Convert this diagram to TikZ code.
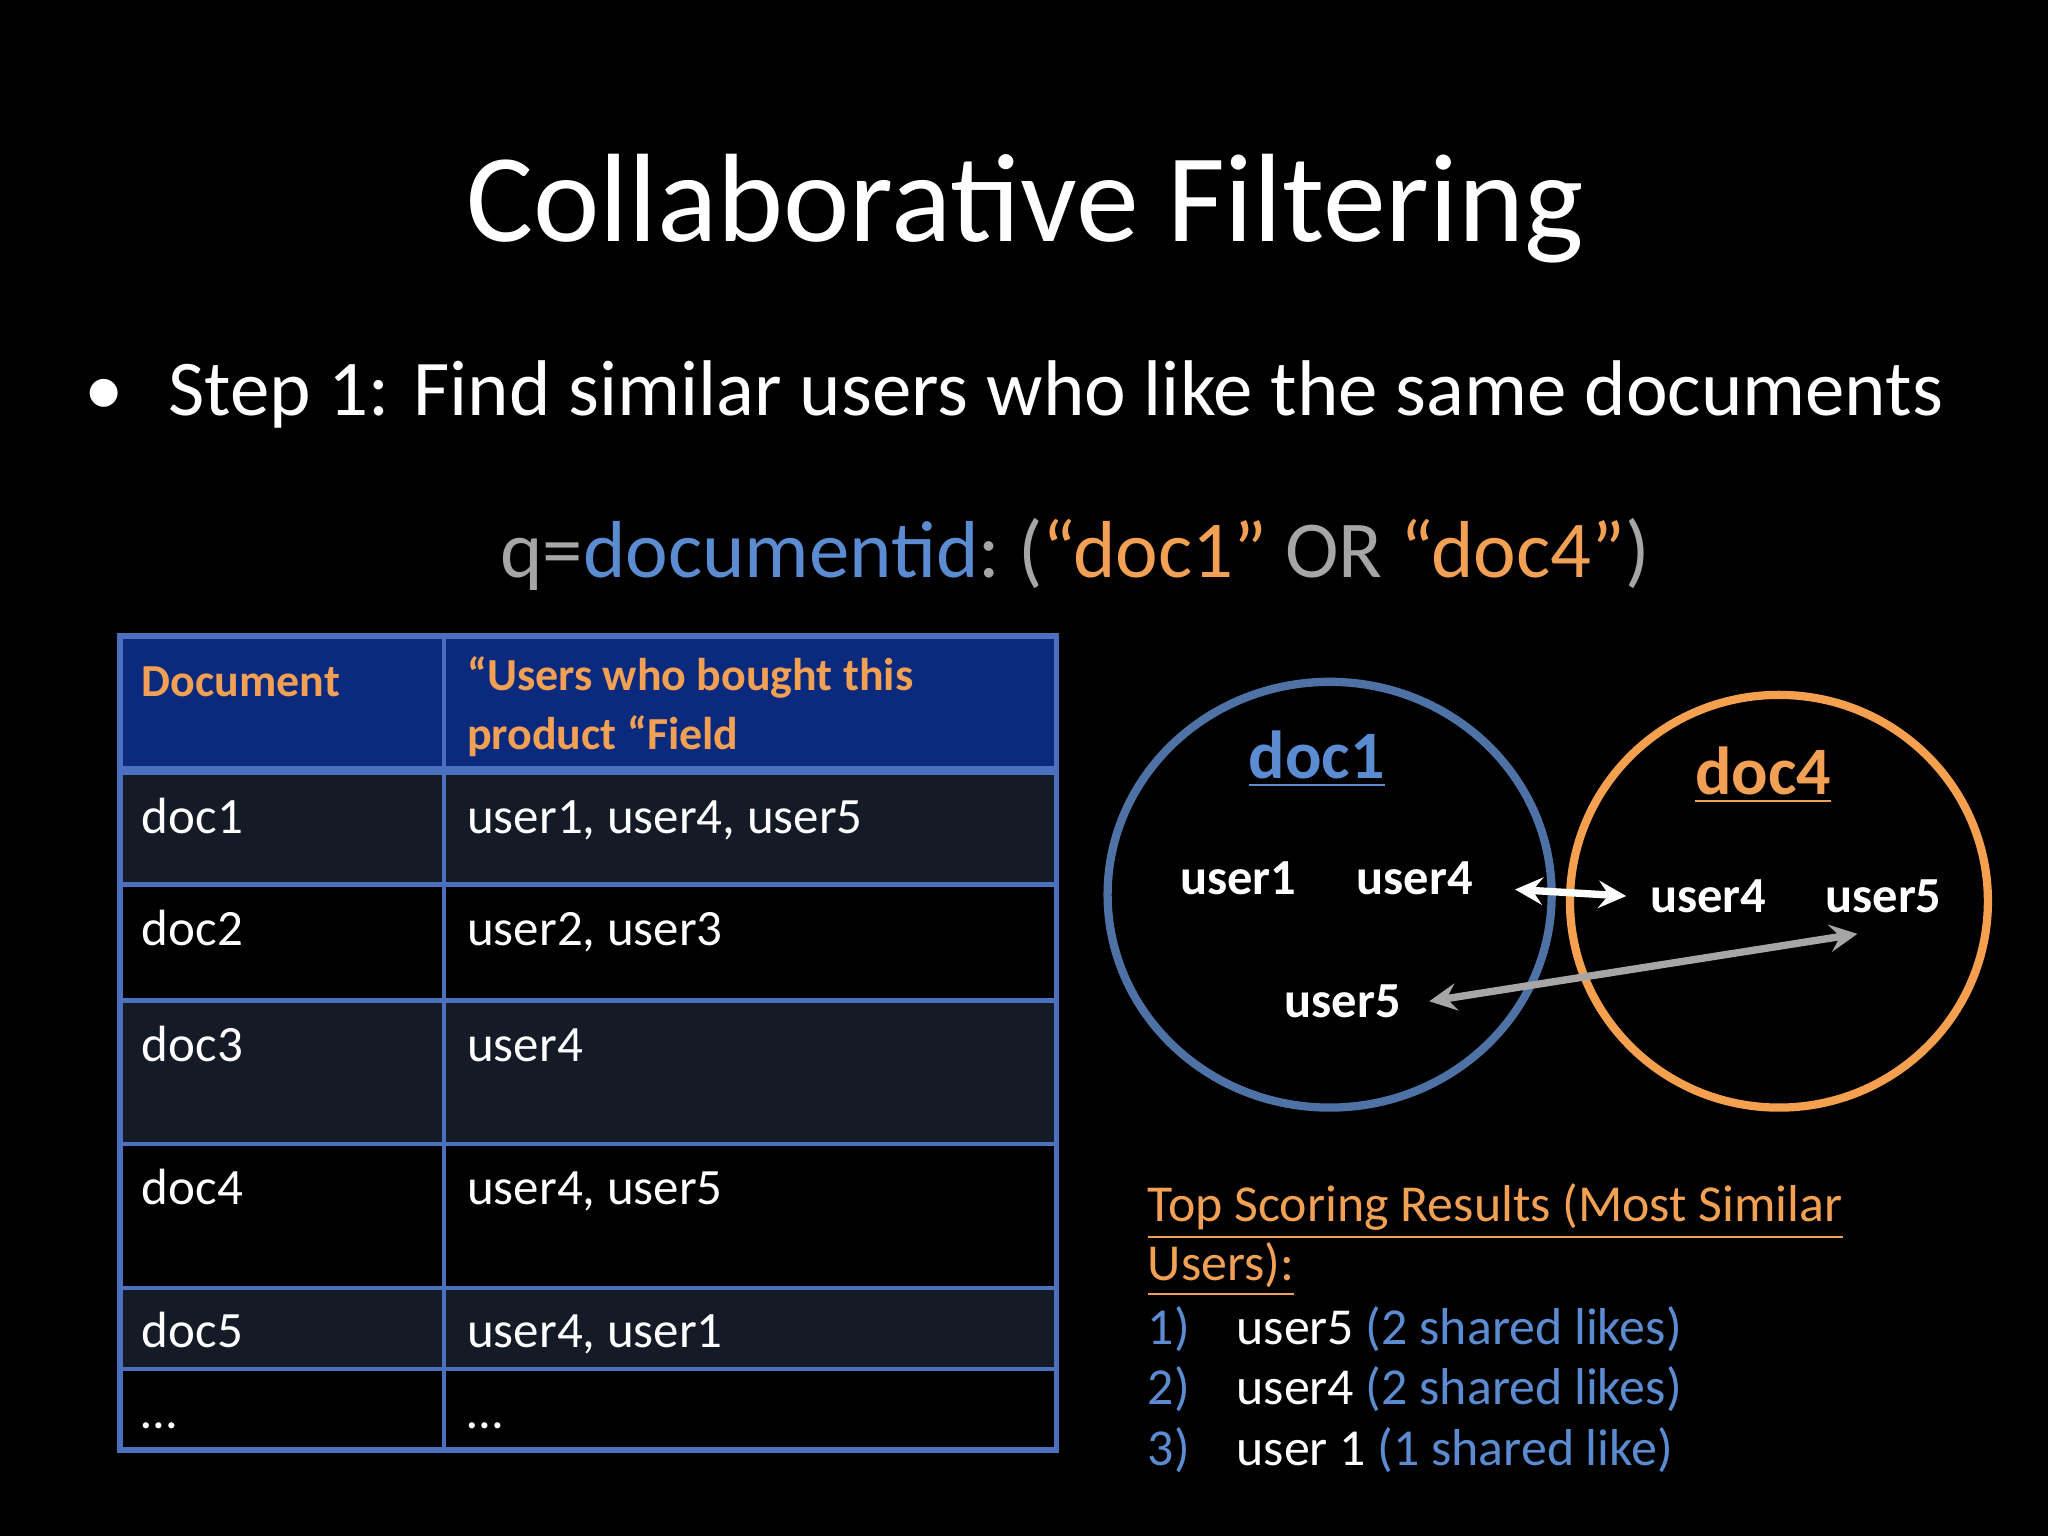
\documentclass[tikz,border=0pt]{standalone}
\usepackage{fontspec}
\setmainfont{Carlito}
\definecolor{tblue}{HTML}{4A70BE}
\definecolor{hblue}{HTML}{0B2A7E}
\definecolor{rowg}{HTML}{141B27}
\definecolor{qgray}{HTML}{A6A6A6}
\definecolor{qblue}{HTML}{5B8BD0}
\definecolor{qorange}{HTML}{F2A054}
\definecolor{cblue}{HTML}{4F72A6}
\definecolor{corange}{HTML}{F5A04E}
\tikzset{
  cell/.style={anchor=base west,text=white,inner sep=0pt,font=\fontsize{11.1}{13}\selectfont},
  hcell/.style={anchor=base west,text=qorange,inner sep=0pt,font=\fontsize{10}{12}\selectfont\bfseries},
  usr/.style={anchor=base,text=white,inner sep=0pt,font=\fontsize{11}{13}\selectfont\bfseries},
  res/.style={anchor=base west,inner sep=0pt,font=\fontsize{11.3}{14}\selectfont},
}
\begin{document}
\begin{tikzpicture}[x=0.1mm,y=-0.1mm]
\fill[black] (0,0) rectangle (1568,1176);
\useasboundingbox (0,0) rectangle (1568,1176);
\node[anchor=base,text=white,inner sep=0pt,font=\fontsize{27.4}{32}\selectfont] (title) at (785,185) {Collaborative Filtering};
\node[anchor=base,text=white,inner sep=0pt,font=\fontsize{17.2}{22}\selectfont] (bdot) at (80,318) {\textbullet};
\node[anchor=base west,text=white,inner sep=0pt,font=\fontsize{17.2}{22}\selectfont] (bul) at (128,318) {Step 1: Find similar users who like the same documents};
\node[anchor=base,inner sep=0pt,font=\fontsize{17.6}{22}\selectfont] (q) at (823,442) {\textcolor{qgray}{q=}\textcolor{qblue}{documentid}\textcolor{qgray}{:~(}\textcolor{qorange}{“doc1”}\textcolor{qgray}{~OR~}\textcolor{qorange}{“doc4”}\textcolor{qgray}{)}};
% table
\fill[hblue] (92,487) rectangle (809,590);
\fill[rowg] (92,590) rectangle (809,677);
\fill[rowg] (92,766) rectangle (809,876);
\fill[rowg] (92,986) rectangle (809,1048);
\draw[tblue,line width=1.2pt] (92,487) rectangle (809,1110);
\draw[tblue,line width=1pt] (340,487) -- (340,1110);
\draw[tblue,line width=2pt] (92,590) -- (809,590);
\foreach \yy in {677,766,876,986,1048} \draw[tblue,line width=1pt] (92,\yy) -- (809,\yy);
\node[hcell] (h1) at (108,533) {Document};
\node[hcell] (h2a) at (357,529) {“Users who bought this};
\node[hcell] (h2b) at (357,574) {product “Field};
\node[cell] (d1) at (108,638) {doc1}; \node[cell] (u1) at (357,638) {user1, user4, user5};
\node[cell] (d2) at (108,724) {doc2}; \node[cell] (u2) at (357,724) {user2, user3};
\node[cell] (d3) at (108,813) {doc3}; \node[cell] (u3) at (357,813) {user4};
\node[cell] (d4) at (108,922) {doc4}; \node[cell] (u4) at (357,922) {user4, user5};
\node[cell] (d5) at (108,1032) {doc5}; \node[cell] (u5) at (357,1032) {user4, user1};
\node[cell] (d6) at (108,1094) {…}; \node[cell] (u6) at (357,1094) {…};
% circles
\draw[cblue,line width=1.8pt] (1018,685) ellipse [x radius=170,y radius=163];
\draw[corange,line width=1.8pt] (1362,690) ellipse [x radius=160,y radius=158];
\node[anchor=base,inner sep=0pt,text=qblue,font=\fontsize{14.8}{18}\selectfont\bfseries] (c1) at (1008,596) {\underline{doc1}};
\node[anchor=base,inner sep=0pt,text=qorange,font=\fontsize{14.8}{18}\selectfont\bfseries] (c4) at (1350,608) {\underline{doc4}};
\node[usr] (a1) at (948,685) {user1};
\node[usr] (a4) at (1083,685) {user4};
\node[usr] (a5) at (1028,779) {user5};
\node[usr] (b4) at (1308,699) {user4};
\node[usr] (b5) at (1442,699) {user5};
\coordinate (wa) at (1160,681);
\coordinate (wb) at (1245,686);
\coordinate (ga) at (1422,715);
\draw[white,line width=1.6pt,<->,>=stealth] (wa) -- (wb);
\draw[qgray,line width=1.6pt,<->,>=stealth] ([xshift=6pt]a5.east) -- (ga);
% results
\node[res,text=qorange] (r0) at (878,935) {\underline{Top Scoring Results (Most Similar}};
\node[res,text=qorange] (r1) at (878,980) {\underline{Users):}};
\node[res,text=qblue] (n1) at (878,1029) {1)}; \node[res] (t1) at (946,1029) {\textcolor{white}{user5}~\textcolor{qblue}{(2 shared likes)}};
\node[res,text=qblue] (n2) at (878,1075) {2)}; \node[res] (t2) at (946,1075) {\textcolor{white}{user4}~\textcolor{qblue}{(2 shared likes)}};
\node[res,text=qblue] (n3) at (878,1122) {3)}; \node[res] (t3) at (946,1122) {\textcolor{white}{user 1}~\textcolor{qblue}{(1 shared like)}};
\end{tikzpicture}
\end{document}
